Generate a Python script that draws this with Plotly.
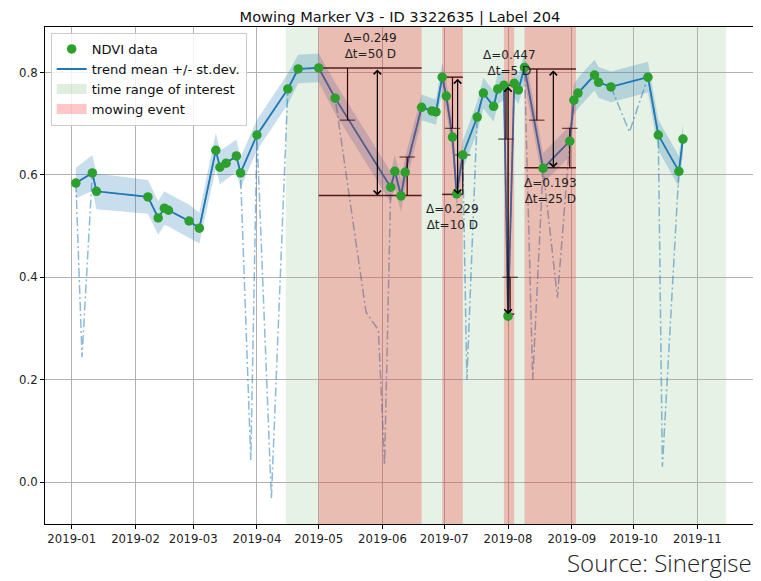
import plotly.graph_objects as go
import pandas as pd

# ---------------- data ----------------
ndvi_dates = ["2019-01-03", "2019-01-11", "2019-01-13", "2019-02-07", "2019-02-12", "2019-02-15",
              "2019-02-17", "2019-02-27", "2019-03-04", "2019-03-12", "2019-03-14", "2019-03-17",
              "2019-03-22", "2019-03-24", "2019-04-01", "2019-04-16", "2019-04-21", "2019-05-01",
              "2019-05-09", "2019-06-05", "2019-06-07", "2019-06-10", "2019-06-12", "2019-06-20",
              "2019-06-25", "2019-06-27", "2019-06-30", "2019-07-02", "2019-07-05", "2019-07-07",
              "2019-07-10", "2019-07-17", "2019-07-20", "2019-07-25", "2019-07-27", "2019-07-30",
              "2019-08-01", "2019-08-04", "2019-08-06", "2019-08-09", "2019-08-18", "2019-08-31",
              "2019-09-02", "2019-09-04", "2019-09-12", "2019-09-14", "2019-09-20", "2019-10-08",
              "2019-10-13", "2019-10-23", "2019-10-25"]
ndvi_values = [0.584, 0.604, 0.568, 0.557, 0.516, 0.535,
               0.531, 0.510, 0.496, 0.648, 0.615, 0.623,
               0.637, 0.604, 0.678, 0.768, 0.807, 0.809,
               0.750, 0.576, 0.607, 0.559, 0.605, 0.732,
               0.725, 0.723, 0.791, 0.754, 0.674, 0.563,
               0.639, 0.713, 0.760, 0.734, 0.768, 0.775,
               0.324, 0.779, 0.766, 0.810, 0.613, 0.666,
               0.746, 0.760, 0.795, 0.781, 0.772, 0.791,
               0.678, 0.607, 0.670]
trend_std = [0.030, 0.035, 0.035, 0.033, 0.033, 0.033,
             0.032, 0.032, 0.030, 0.035, 0.033, 0.032,
             0.032, 0.030, 0.030, 0.030, 0.028, 0.028,
             0.030, 0.030, 0.032, 0.032, 0.030, 0.025,
             0.025, 0.025, 0.028, 0.030, 0.030, 0.030,
             0.028, 0.030, 0.030, 0.030, 0.030, 0.028,
             0.030, 0.028, 0.028, 0.030, 0.030, 0.030,
             0.030, 0.030, 0.030, 0.030, 0.030, 0.030,
             0.030, 0.030, 0.030]

# cloudy / raw-only observations (dash-dot line)
cloud_dates = ["2019-01-06", "2019-03-29", "2019-04-08", "2019-05-24", "2019-05-30", "2019-06-02",
               "2019-07-12", "2019-08-13", "2019-08-25", "2019-09-29", "2019-10-15"]
cloud_values = [0.244, 0.043, -0.032, 0.332, 0.297, 0.033,
                0.200, 0.200, 0.360, 0.684, 0.030]

roi_start = "2019-04-15"
roi_end = "2019-11-15"

ev_start = ["2019-05-01", "2019-06-30", "2019-07-30", "2019-08-09"]
ev_end = ["2019-06-20", "2019-07-10", "2019-08-04", "2019-09-03"]
ev_top = [0.809, 0.791, 0.775, 0.807]
ev_bottom = [0.560, 0.562, 0.328, 0.614]
ev_delta = ["0.249", "0.229", "0.447", "0.193"]
ev_dt = [50, 10, 5, 25]
ev_bar_left = ["2019-05-15", "2019-07-05", "2019-07-31", "2019-08-15"]
ev_bar_right = ["2019-06-13", "2019-07-10", "2019-08-02", "2019-08-31"]
ev_std_top = [0.102, 0.100, 0.105, 0.100]
ev_std_bottom = [0.075, 0.077, 0.072, 0.077]
ev_label_pos = ["above", "below", "above", "below"]

title_text = "Mowing Marker V3 - ID 3322635 | Label 204"
source_text = "Source: Sinergise"

# ---------------- figure ----------------
FONT = "DejaVu Sans"
GREEN_SPAN = "rgba(0,128,0,0.10)"
RED_SPAN = "rgba(255,0,0,0.22)"
fig = go.Figure()

# time range of interest (span)
fig.add_shape(type="rect", xref="x", yref="paper", x0=roi_start, x1=roi_end, y0=0, y1=1,
              fillcolor=GREEN_SPAN, line_width=0, layer="below")

# raw series (dash-dot)
raw = pd.DataFrame({"d": pd.to_datetime(ndvi_dates + cloud_dates),
                    "v": ndvi_values + cloud_values}).sort_values("d")
fig.add_trace(go.Scatter(x=raw["d"], y=raw["v"], mode="lines",
                         line=dict(color="rgba(31,119,180,0.5)", width=1.5, dash="9px,3px,2px,3px"),
                         showlegend=False, hoverinfo="skip"))

# std band
upper = [v + s for v, s in zip(ndvi_values, trend_std)]
lower = [v - s for v, s in zip(ndvi_values, trend_std)]
fig.add_trace(go.Scatter(x=ndvi_dates, y=upper, mode="lines", line=dict(width=0),
                         showlegend=False, hoverinfo="skip"))
fig.add_trace(go.Scatter(x=ndvi_dates, y=lower, mode="lines", line=dict(width=0),
                         fill="tonexty", fillcolor="rgba(31,119,180,0.24)",
                         showlegend=False, hoverinfo="skip"))
# trend line
fig.add_trace(go.Scatter(x=ndvi_dates, y=ndvi_values, mode="lines",
                         line=dict(color="#1f77b4", width=1.8),
                         name="trend mean +/- st.dev.", legendrank=2))

# event markers: horizontal lines and bars
for i in range(len(ev_start)):
    for yv in (ev_top[i], ev_bottom[i]):
        fig.add_trace(go.Scatter(x=[ev_start[i], ev_end[i]], y=[yv, yv], mode="lines",
                                 line=dict(color="rgba(0,0,0,0.85)", width=1.5),
                                 showlegend=False, hoverinfo="skip"))
    fig.add_trace(go.Scatter(x=[ev_bar_left[i], ev_bar_left[i]],
                             y=[ev_top[i], ev_top[i] - ev_std_top[i]], mode="lines+markers",
                             line=dict(color="black", width=1.2),
                             marker=dict(symbol="line-ew-open", size=[0, 11],
                                         line=dict(color="black", width=1.2)),
                             showlegend=False, hoverinfo="skip"))
    fig.add_trace(go.Scatter(x=[ev_bar_right[i], ev_bar_right[i]],
                             y=[ev_bottom[i], ev_bottom[i] + ev_std_bottom[i]], mode="lines+markers",
                             line=dict(color="black", width=1.2),
                             marker=dict(symbol="line-ew-open", size=[0, 11],
                                         line=dict(color="black", width=1.2)),
                             showlegend=False, hoverinfo="skip"))

# mowing event spans
for i in range(len(ev_start)):
    fig.add_trace(go.Scatter(x=[ev_start[i], ev_start[i], ev_end[i], ev_end[i], ev_start[i]],
                             y=[-1, 2, 2, -1, -1], mode="none", fill="toself",
                             fillcolor=RED_SPAN, showlegend=False, hoverinfo="skip"))

# legend entries for the spans (patch-like)
fig.add_trace(go.Scatter(x=[None], y=[None], mode="lines",
                         line=dict(color="rgba(0,128,0,0.13)", width=12),
                         name="time range of interest", legendrank=3))
fig.add_trace(go.Scatter(x=[None], y=[None], mode="lines",
                         line=dict(color="rgba(255,0,0,0.22)", width=12),
                         name="mowing event", legendrank=4))

# NDVI dots
fig.add_trace(go.Scatter(x=ndvi_dates, y=ndvi_values, mode="markers",
                         marker=dict(color="#2ca02c", size=9.5),
                         name="NDVI data", legendrank=1))

# arrows and labels
for i in range(len(ev_start)):
    mid = pd.to_datetime(ev_bar_left[i]) + (pd.to_datetime(ev_bar_right[i]) - pd.to_datetime(ev_bar_left[i])) / 2
    fig.add_annotation(x=mid, y=ev_bottom[i], ax=mid, ay=ev_top[i], xref="x", yref="y",
                       axref="x", ayref="y", text="", showarrow=True, arrowhead=4,
                       arrowside="end+start", arrowsize=1.2, arrowwidth=1.2, arrowcolor="black")
    center = pd.to_datetime(ev_start[i]) + (pd.to_datetime(ev_end[i]) - pd.to_datetime(ev_start[i])) / 2
    above = ev_label_pos[i] == "above"
    fig.add_annotation(x=center, y=ev_top[i] if above else ev_bottom[i], xref="x", yref="y",
                       text=f"Δ={ev_delta[i]}<br>Δt={ev_dt[i]} D", showarrow=False,
                       yanchor="bottom" if above else "top", yshift=5 if above else -6,
                       font=dict(family=FONT, size=12, color="#222"), align="center")

fig.add_annotation(x=0.998, y=-0.0765, xref="paper", yref="paper", text=source_text,
                   showarrow=False, xanchor="right", yanchor="middle",
                   font=dict(family="Open Sans", size=24, color="#222", weight=300))

axis_common = dict(showline=True, linecolor="black", linewidth=1, mirror=True,
                   ticks="outside", ticklen=4, tickcolor="black", showgrid=True,
                   gridcolor="#b0b0b0", gridwidth=1, zeroline=False,
                   tickfont=dict(family=FONT, size=11.7, color="#222"))

# page body has an 8px margin: figure is sized/margined so the plot lands where the reference has it
fig.update_layout(
    width=753, height=573,
    margin=dict(l=37, r=6, t=19, b=57),
    paper_bgcolor="white", plot_bgcolor="white",
    title=dict(text=title_text, x=0.5, xref="paper", y=1 - 9 / 573, yref="container",
               xanchor="center", yanchor="middle",
               font=dict(family=FONT, size=14.6, color="#111")),
    xaxis=dict(range=["2018-12-19", "2019-11-29"], dtick="M1", tick0="2019-01-01",
               tickformat="%Y-%m", **axis_common),
    yaxis=dict(range=[-0.082, 0.889], tickvals=[0.0, 0.2, 0.4, 0.6, 0.8],
               tickformat=".1f", **axis_common),
    legend=dict(x=0.008, y=0.988, xanchor="left", yanchor="top", itemwidth=30,
                bgcolor="rgba(255,255,255,0.85)", bordercolor="#cccccc", borderwidth=1,
                font=dict(family=FONT, size=13.1, color="#111"), traceorder="normal"),
    showlegend=True,
)

fig.write_html("out.html")
